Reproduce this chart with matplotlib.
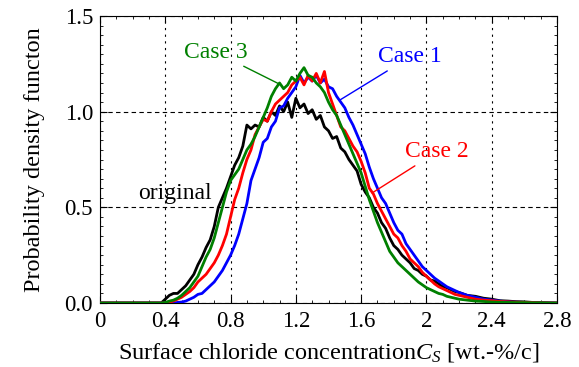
import numpy as np
import matplotlib
matplotlib.use("Agg")
import matplotlib.pyplot as plt
from matplotlib.ticker import MultipleLocator

plt.rcParams['font.family'] = ['Liberation Serif', 'DejaVu Serif']
plt.rcParams['mathtext.fontset'] = 'custom'
plt.rcParams['mathtext.rm'] = 'Liberation Serif'
plt.rcParams['mathtext.it'] = 'Liberation Serif:italic'

# x grid (wt.-%/c)
x_core = [round(0.375 + 0.025 * i, 3) for i in range(74)]  # 0.375 .. 2.2
x_tail = [2.25, 2.30, 2.35, 2.40, 2.45, 2.50, 2.55, 2.60, 2.65, 2.70, 2.75, 2.80]
x = [0.0, 0.35] + x_core + x_tail

original = [0.0, 0.0,
    0.00, 0.02, 0.04, 0.05, 0.05, 0.07, 0.09, 0.12, 0.15, 0.20,
    0.24, 0.29, 0.33, 0.40, 0.50, 0.55, 0.60, 0.66, 0.72, 0.76,
    0.82, 0.93, 0.91, 0.93, 0.92, 0.97, 0.95, 1.00, 0.98, 1.03,
    1.00, 1.05, 0.97, 1.07, 1.02, 1.04, 0.99, 1.01, 0.96, 0.98,
    0.92, 0.90, 0.86, 0.87, 0.81, 0.79, 0.75, 0.72, 0.69, 0.62,
    0.58, 0.55, 0.50, 0.47, 0.42, 0.39, 0.34, 0.30, 0.28, 0.25,
    0.23, 0.21, 0.18, 0.17, 0.15, 0.14, 0.12, 0.115, 0.10, 0.085,
    0.08, 0.07, 0.06, 0.055,
    0.04, 0.035, 0.025, 0.02, 0.012, 0.01, 0.007, 0.006, 0.003, 0.002, 0.001, 0.0]

case1 = [0.0, 0.0,
    0.0, 0.0, 0.0, 0.0, 0.003, 0.005, 0.01, 0.02, 0.03, 0.045,
    0.05, 0.07, 0.09, 0.11, 0.14, 0.17, 0.21, 0.25, 0.30, 0.36,
    0.44, 0.52, 0.64, 0.70, 0.76, 0.84, 0.86, 0.92, 0.95, 1.02,
    1.03, 1.07, 1.10, 1.13, 1.19, 1.15, 1.18, 1.16, 1.19, 1.15,
    1.17, 1.13, 1.12, 1.08, 1.05, 1.02, 0.97, 0.93, 0.88, 0.83,
    0.78, 0.71, 0.65, 0.60, 0.55, 0.52, 0.47, 0.42, 0.38, 0.36,
    0.31, 0.28, 0.25, 0.22, 0.19, 0.17, 0.15, 0.13, 0.115, 0.10,
    0.085, 0.075, 0.065, 0.055,
    0.04, 0.03, 0.02, 0.015, 0.01, 0.006, 0.004, 0.003, 0.002, 0.001, 0.0, 0.0]

case2 = [0.0, 0.0,
    0.0, 0.0, 0.005, 0.01, 0.02, 0.03, 0.045, 0.06, 0.08, 0.11,
    0.13, 0.15, 0.18, 0.21, 0.25, 0.30, 0.36, 0.45, 0.54, 0.60,
    0.68, 0.75, 0.80, 0.88, 0.92, 0.96, 0.95, 1.00, 1.04, 1.06,
    1.08, 1.10, 1.14, 1.16, 1.18, 1.14, 1.19, 1.16, 1.20, 1.15,
    1.21, 1.10, 1.04, 0.98, 0.92, 0.90, 0.86, 0.82, 0.79, 0.74,
    0.68, 0.60, 0.57, 0.52, 0.48, 0.44, 0.40, 0.36, 0.34, 0.30,
    0.27, 0.23, 0.21, 0.19, 0.16, 0.14, 0.12, 0.10, 0.085, 0.075,
    0.065, 0.055, 0.045, 0.04,
    0.03, 0.02, 0.015, 0.012, 0.008, 0.006, 0.004, 0.003, 0.002, 0.001, 0.0, 0.0]

case3 = [0.0, 0.0,
    0.0, 0.003, 0.01, 0.015, 0.025, 0.04, 0.06, 0.08, 0.11, 0.14,
    0.19, 0.24, 0.28, 0.34, 0.42, 0.50, 0.58, 0.64, 0.67, 0.70,
    0.75, 0.80, 0.83, 0.87, 0.92, 0.97, 1.02, 1.08, 1.12, 1.15,
    1.12, 1.14, 1.18, 1.16, 1.20, 1.23, 1.19, 1.18, 1.15, 1.13,
    1.10, 1.05, 1.01, 0.98, 0.93, 0.88, 0.83, 0.78, 0.73, 0.68,
    0.61, 0.54, 0.48, 0.42, 0.37, 0.32, 0.27, 0.24, 0.21, 0.19,
    0.17, 0.15, 0.13, 0.11, 0.095, 0.08, 0.07, 0.06, 0.05, 0.045,
    0.035, 0.03, 0.025, 0.02,
    0.015, 0.01, 0.008, 0.005, 0.004, 0.003, 0.002, 0.002, 0.001, 0.001, 0.0, 0.0]

series = [("original", original, "black"),
          ("Case 1", case1, "#0000ff"),
          ("Case 2", case2, "#ff0000"),
          ("Case 3", case3, "#008000")]

fig = plt.figure(figsize=(5.79, 3.67), dpi=100)
ax = fig.add_axes([100/579, 64/367, 457/579, 287/367])

for name, vals, col in series:
    ax.plot(x, vals, color=col, lw=2.0, zorder=3)

ax.set_xlim(0, 2.8)
ax.set_ylim(0, 1.5)
ax.xaxis.set_minor_locator(MultipleLocator(0.1))
ax.yaxis.set_minor_locator(MultipleLocator(0.05))
ax.set_xticks([0, 0.4, 0.8, 1.2, 1.6, 2.0, 2.4, 2.8])
ax.set_xticklabels(["0", "0.4", "0.8", "1.2", "1.6", "2", "2.4", "2.8"])
ax.set_yticks([0, 0.5, 1.0, 1.5])
ax.set_yticklabels(["0.0", "0.5", "1.0", "1.5"])
ax.tick_params(which='both', direction='in', top=True, right=True, labelsize=16.5)
ax.tick_params(axis='x', which='major', pad=6)
ax.tick_params(axis='y', which='major', pad=5)
ax.tick_params(which='major', length=5, width=0.8)
ax.tick_params(which='minor', length=2.5, width=0.6)
ax.xaxis.grid(True, color='black', linestyle=(0, (2, 4)), lw=0.8)
ax.yaxis.grid(True, color='black', linestyle=(0, (4, 3)), lw=0.8)
ax.set_axisbelow(True)

ax.set_xlabel(r"Surface chloride concentration$C_S$ [wt.-%/c]", fontsize=17.5, labelpad=6)
ax.set_ylabel("Probability density functon", fontsize=17.5, labelpad=14)

ax.annotate("Case 3", xy=(1.109, 1.14), xytext=(0.71, 1.31), color="#008000",
            fontsize=17, ha='center', va='center',
            arrowprops=dict(arrowstyle='-', color="#008000", lw=1.0, shrinkA=1, shrinkB=0))
ax.annotate("Case 1", xy=(1.47, 1.061), xytext=(1.90, 1.286), color="#0000ff",
            fontsize=17, ha='center', va='center',
            arrowprops=dict(arrowstyle='-', color="#0000ff", lw=1.0, shrinkA=1, shrinkB=0))
ax.annotate("Case 2", xy=(1.667, 0.575), xytext=(2.065, 0.79), color="#ff0000",
            fontsize=17, ha='center', va='center',
            arrowprops=dict(arrowstyle='-', color="#ff0000", lw=1.0, shrinkA=1, shrinkB=0))
ax.text(0.46, 0.57, "original", color="black", fontsize=17, ha='center', va='center')

fig.savefig("out.png", dpi=100)
